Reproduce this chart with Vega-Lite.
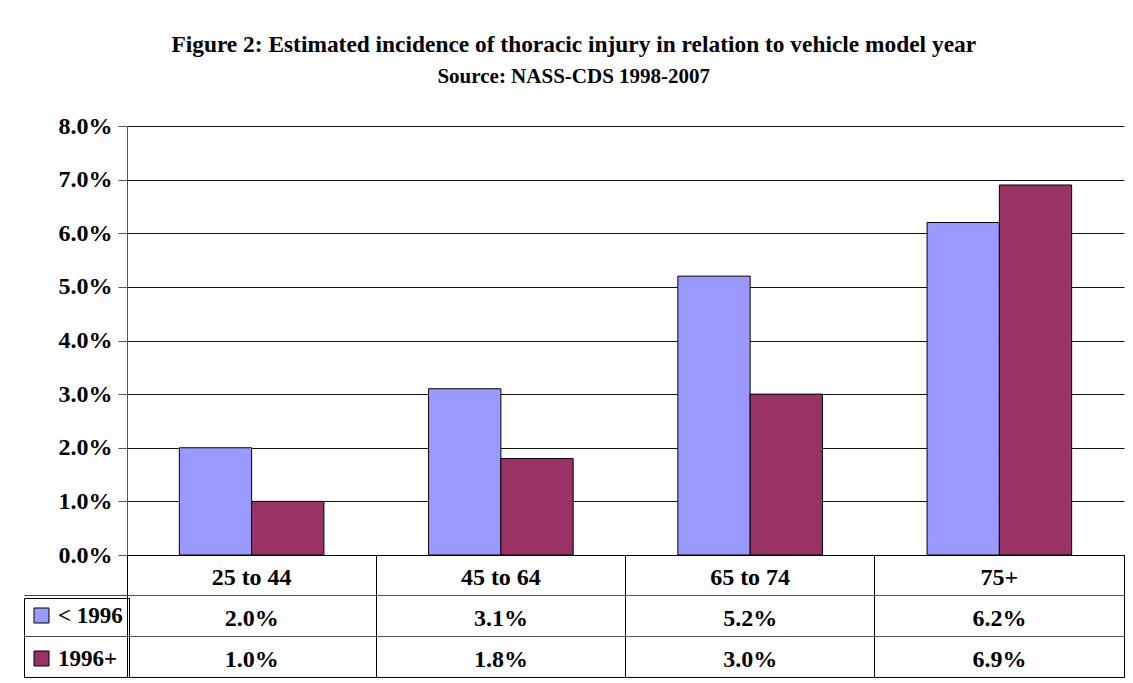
{
  "$schema": "https://vega.github.io/schema/vega-lite/v6.json",
  "background": "white",
  "padding": {"left": 23, "top": 32, "right": 8, "bottom": 6},
  "bounds": "flush",
  "title": {
    "text": "Figure 2: Estimated incidence of thoracic injury in relation to vehicle model year",
    "subtitle": "Source: NASS-CDS 1998-2007",
    "font": "Liberation Serif",
    "fontSize": 23.4,
    "fontWeight": "bold",
    "color": "#000",
    "subtitleFont": "Liberation Serif",
    "subtitleFontSize": 21,
    "subtitleFontWeight": "bold",
    "subtitleColor": "#000",
    "subtitlePadding": 9,
    "anchor": "middle",
    "frame": "bounds",
    "offset": 26
  },
  "datasets": {
    "d": [
      {"age": "25 to 44", "series": "< 1996", "value": 0.020},
      {"age": "45 to 64", "series": "< 1996", "value": 0.031},
      {"age": "65 to 74", "series": "< 1996", "value": 0.052},
      {"age": "75+", "series": "< 1996", "value": 0.062},
      {"age": "25 to 44", "series": "1996+", "value": 0.010},
      {"age": "45 to 64", "series": "1996+", "value": 0.018},
      {"age": "65 to 74", "series": "1996+", "value": 0.030},
      {"age": "75+", "series": "1996+", "value": 0.069}
    ]
  },
  "spacing": 0,
  "vconcat": [
    {
      "width": 997,
      "height": 429,
      "view": {"stroke": null},
      "data": {"name": "d"},
      "mark": {"type": "bar", "stroke": "#000", "strokeWidth": 1},
      "encoding": {
        "x": {
          "field": "age", "type": "nominal",
          "sort": ["25 to 44", "45 to 64", "65 to 74", "75+"],
          "scale": {"paddingInner": 0.42, "paddingOuter": 0.21},
          "axis": null
        },
        "xOffset": {
          "field": "series", "type": "nominal",
          "sort": ["< 1996", "1996+"],
          "scale": {"paddingInner": 0, "paddingOuter": 0}
        },
        "y": {
          "field": "value", "type": "quantitative",
          "scale": {"domain": [0, 0.08], "nice": false},
          "axis": {
            "values": [0, 0.01, 0.02, 0.03, 0.04, 0.05, 0.06, 0.07, 0.08],
            "format": ".1%",
            "title": null,
            "labelFont": "Liberation Serif",
            "labelFontSize": 24,
            "labelFontWeight": "bold",
            "labelColor": "#000",
            "labelPadding": 6,
            "tickSize": 9,
            "tickColor": "#555",
            "domainColor": "#555",
            "gridColor": "#111",
            "gridOpacity": 1
          }
        },
        "color": {
          "field": "series", "type": "nominal",
          "scale": {"domain": ["< 1996", "1996+"], "range": ["#9999FF", "#993366"]},
          "legend": {
            "title": null,
            "orient": "none",
            "legendX": -103,
            "legendY": 472,
            "direction": "vertical",
            "symbolType": "square",
            "symbolSize": 225,
            "symbolStrokeColor": "#000",
            "symbolStrokeWidth": 1,
            "symbolOpacity": 1,
            "labelFont": "Liberation Serif",
            "labelFontSize": 23,
            "labelFontWeight": "bold",
            "labelColor": "#000",
            "labelOffset": 5,
            "rowPadding": 19,
            "padding": 6,
            "strokeColor": "#000"
          }
        }
      }
    },
    {
      "width": 997,
      "height": 122,
      "view": {"stroke": "#000", "strokeWidth": 1},
      "data": {"name": "d"},
      "encoding": {
        "x": {
          "field": "age", "type": "nominal",
          "sort": ["25 to 44", "45 to 64", "65 to 74", "75+"],
          "scale": {"type": "band", "padding": 0},
          "axis": {
            "orient": "top", "title": null, "domain": false, "ticks": false, "labels": false,
            "grid": true, "bandPosition": 0, "gridColor": "#000", "gridOpacity": 1
          }
        }
      },
      "layer": [
        {
          "mark": {"type": "text", "font": "Liberation Serif", "fontSize": 24, "fontWeight": "bold", "color": "#000", "dy": 3},
          "encoding": {
            "y": {
              "field": "series", "type": "nominal",
              "scale": {"type": "band", "domain": ["hdr", "< 1996", "1996+"], "padding": 0},
              "axis": {
                "values": ["< 1996", "1996+"], "bandPosition": 0, "title": null,
                "labels": false, "domain": false, "ticks": true, "tickSize": 103,
                "tickColor": "#444", "grid": true, "gridColor": "#555", "gridOpacity": 1
              }
            },
            "text": {"field": "value", "type": "quantitative", "format": ".1%"}
          }
        },
        {
          "transform": [{"filter": "datum.series === '< 1996'"}],
          "mark": {"type": "text", "font": "Liberation Serif", "fontSize": 24, "fontWeight": "bold", "color": "#000", "dy": 3},
          "encoding": {
            "y": {"datum": "hdr", "type": "nominal"},
            "text": {"field": "age", "type": "nominal"}
          }
        }
      ]
    }
  ]
}
